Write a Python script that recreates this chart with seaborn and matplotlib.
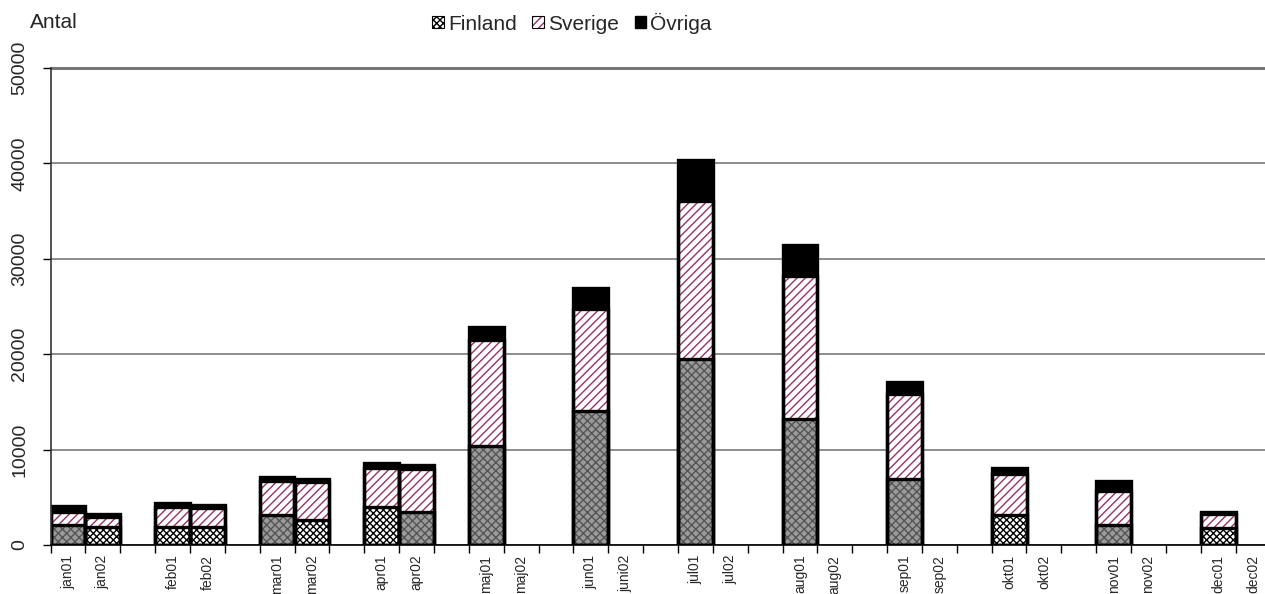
import numpy as np
import pandas as pd
import matplotlib
matplotlib.use("Agg")
import matplotlib.pyplot as plt
import seaborn as sns
from matplotlib.patches import Patch
from matplotlib.ticker import FixedLocator

sns.set_theme(style="white")
plt.rcParams["font.family"] = ["Liberation Sans", "DejaVu Sans"]
plt.rcParams["hatch.linewidth"] = 1.0

# data (02 months after apr have no bars)
labels = ["jan01", "jan02", "feb01", "feb02", "mar01", "mar02", "apr01", "apr02",
          "maj01", "maj02", "jun01", "juni02", "jul01", "jul02", "aug01", "aug02",
          "sep01", "sep02", "okt01", "okt02", "nov01", "nov02", "dec01", "dec02"]
finland = [2100, 1900, 1850, 1850, 3100, 2600, 3950, 3450,
           10400, np.nan, 14000, np.nan, 19500, np.nan, 13200, np.nan,
           6900, np.nan, 3150, np.nan, 2100, np.nan, 1800, np.nan]
sverige = [1400, 1050, 2150, 2050, 3650, 4050, 4150, 4500,
           11100, np.nan, 10700, np.nan, 16600, np.nan, 15000, np.nan,
           8900, np.nan, 4300, np.nan, 3600, np.nan, 1400, np.nan]
ovriga = [600, 250, 400, 300, 350, 300, 450, 400,
          1300, np.nan, 2200, np.nan, 4300, np.nan, 3200, np.nan,
          1250, np.nan, 600, np.nan, 1000, np.nan, 300, np.nan]

# slot order: two bars per month, then an empty gap slot
order = []
for i, lab in enumerate(labels):
    order.append(lab)
    if i % 2 == 1 and i < len(labels) - 1:
        order.append(f"_gap{i}")

df = pd.DataFrame({"slot": labels, "Finland": finland,
                   "Sverige": sverige, "Övriga": ovriga}).dropna()
df["fs"] = df["Finland"] + df["Sverige"]
df["total"] = df["fs"] + df["Övriga"]

purple = "#993366"
# pattern look of each Finland bar (Excel renders the fill two ways)
finland_dark = [True, False, False, False, True, False, False, True,
                True, True, True, True, True, False, True, False]

fig = plt.figure(figsize=(12.65, 5.94), dpi=100)
ax = fig.add_axes([50.5 / 1265, 49 / 594, 1220 / 1265, 477 / 594])

# fills, drawn as cumulative overlapping bars
sns.barplot(data=df, x="slot", y="total", order=order, width=1, color="black",
            saturation=1, linewidth=0, ax=ax)
sns.barplot(data=df, x="slot", y="fs", order=order, width=1, color="white",
            saturation=1, linewidth=0, ax=ax)
for p in ax.containers[-1]:
    p.set_hatch("////")
    p.set_edgecolor(purple)
sns.barplot(data=df, x="slot", y="Finland", order=order, width=1, color="white",
            saturation=1, linewidth=0, ax=ax)
for p, dark in zip(ax.containers[-1], finland_dark):
    if dark:
        p.set_hatch("xxxx")
        p.set_facecolor("#9a9a9a")
        p.set_edgecolor("#555555")
    else:
        p.set_hatch("xxxxx")
        p.set_facecolor("white")
        p.set_edgecolor("black")

# outlines
for col in ["total", "fs", "Finland"]:
    sns.barplot(data=df, x="slot", y=col, order=order, width=1, color="white",
                saturation=1, ax=ax)
    for p in ax.containers[-1]:
        p.set_facecolor("none")
        p.set_edgecolor("black")
        p.set_linewidth(2.4)

ax.set_xlim(-0.5, len(order) - 0.5)
ax.set_ylim(0, 50000)
ax.set_yticks(range(0, 50001, 10000))
ax.yaxis.grid(True, color="#6e6e6e", linewidth=1.1)
ax.axhline(50000, color="#7a7a7a", linewidth=2.2, clip_on=False, zorder=0)
ax.set_axisbelow(True)

ax.set_xticks(range(len(order)))
ax.set_xticklabels([s if not s.startswith("_") else "" for s in order],
                   rotation=90, fontsize=10)
ax.xaxis.set_minor_locator(FixedLocator(np.arange(-0.5, len(order), 1)))
ax.tick_params(axis="x", which="major", length=0, pad=7)
ax.tick_params(axis="x", which="minor", length=6, width=1, color="black",
               direction="out", bottom=True)
ax.tick_params(axis="y", length=6, width=1, color="black", direction="out",
               left=True, labelsize=14, pad=10)
for t in ax.get_yticklabels():
    t.set_rotation(90)
    t.set_va("center")

ax.set_xlabel("")
ax.set_ylabel("")
for s in ["top", "right"]:
    ax.spines[s].set_visible(False)
ax.spines["left"].set_color("#333333")
ax.spines["left"].set_linewidth(1.2)
ax.spines["bottom"].set_color("black")
ax.spines["bottom"].set_linewidth(1.2)

fig.text(30 / 1265, 1 - 23 / 594, "Antal", fontsize=15, va="center", ha="left")

handles = [
    Patch(facecolor="white", edgecolor="black", hatch="xxxxx", linewidth=0.8),
    (Patch(facecolor="white", edgecolor=purple, hatch="////", linewidth=0),
     Patch(facecolor="none", edgecolor="black", linewidth=0.8)),
    Patch(facecolor="black", edgecolor="black"),
]
fig.legend(handles, ["Finland", "Sverige", "Övriga"], loc="center",
           bbox_to_anchor=(572 / 1265, 1 - 23 / 594), ncol=3, frameon=False,
           fontsize=15, handlelength=0.55, handleheight=0.55,
           handletextpad=0.2, columnspacing=0.75, borderaxespad=0)

fig.savefig("out.png", dpi=100)
